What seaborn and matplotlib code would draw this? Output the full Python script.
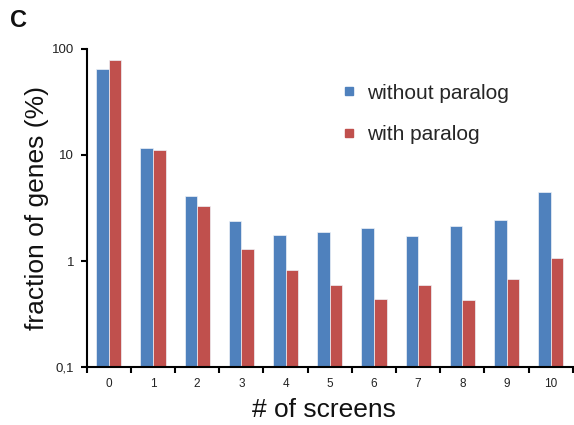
import matplotlib
matplotlib.use('Agg')
import matplotlib.pyplot as plt
import seaborn as sns
import pandas as pd
from matplotlib.lines import Line2D
from matplotlib.ticker import NullLocator

# ---- data ----
screens = ['0', '1', '2', '3', '4', '5', '6', '7', '8', '9', '10']
without_paralog = [64.7, 11.7, 4.09, 2.37, 1.75, 1.89, 2.06, 1.73, 2.16, 2.42, 4.46]
with_paralog = [78.8, 11.1, 3.29, 1.29, 0.82, 0.60, 0.44, 0.59, 0.43, 0.68, 1.06]
series = ['without paralog', 'with paralog']
colors = ['#4F81BD', '#C0504D']
y_ticks = [0.1, 1, 10, 100]
y_tick_labels = ['0,1', '1', '10', '100']

df = pd.DataFrame({
    'screens': screens * 2,
    'fraction': without_paralog + with_paralog,
    'group': [series[0]] * len(screens) + [series[1]] * len(screens),
})

sns.set_style('ticks')
plt.rcParams['font.family'] = ['Liberation Sans', 'DejaVu Sans']

fig = plt.figure(figsize=(5.74, 4.25), dpi=100)
ax = fig.add_axes([0.151, 0.136, 0.847, 0.749])

sns.barplot(data=df, x='screens', y='fraction', hue='group', hue_order=series,
            palette=colors, width=0.57, ax=ax, legend=False,
            edgecolor='#eef2f8', linewidth=0.5, saturation=1)

ax.set_yscale('log')
ax.set_ylim(0.1, 100)
ax.set_xlim(-0.5, len(screens) - 0.5)
ax.set_yticks(y_ticks)
ax.set_yticklabels(y_tick_labels)
ax.yaxis.set_minor_locator(NullLocator())

ax.set_xticks(range(len(screens)))
ax.set_xticklabels(screens)
ax.set_xticks([i - 0.5 for i in range(len(screens) + 1)], minor=True)
ax.tick_params(axis='x', which='major', length=0, pad=8, labelsize=8.5, labelcolor='#222222')
ax.tick_params(axis='x', which='minor', length=4, width=1.5, direction='out', color='black')
ax.tick_params(axis='y', which='major', length=4, width=1.5, direction='out', pad=5,
               labelsize=9.5, labelcolor='#222222', color='black')

for side in ['top', 'right']:
    ax.spines[side].set_visible(False)
for side in ['left', 'bottom']:
    ax.spines[side].set_linewidth(1.5)
    ax.spines[side].set_color('black')

ax.set_xlabel('# of screens', fontsize=19, color='#111111')
ax.set_ylabel('fraction of genes (%)', fontsize=19, color='#111111')
ax.xaxis.set_label_coords(0.488, -0.097, transform=ax.transAxes)
ax.yaxis.set_label_coords(-0.077, 0.5, transform=ax.transAxes)

handles = [Line2D([], [], marker='s', linestyle='', color=c, markersize=6) for c in colors]
fig.legend(handles, series, loc='upper left', bbox_to_anchor=(0.578, 0.828),
           frameon=False, fontsize=15, handlelength=0.7, handletextpad=0.5,
           labelspacing=1.1, borderpad=0)

fig.text(0.017, 0.937, 'C', fontsize=17, fontweight='bold', color='#111111')

fig.savefig('out.png', dpi=100)
